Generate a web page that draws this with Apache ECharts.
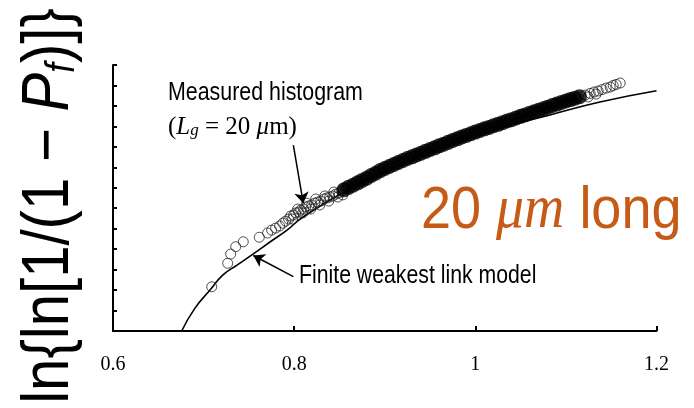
<!DOCTYPE html>
<html>
<head>
<meta charset="utf-8">
<script src="https://cdn.jsdelivr.net/npm/echarts/dist/echarts.min.js"></script>
<style>
  html, body { margin: 0; padding: 0; background: #fff; }
  #chart { width: 694px; height: 408px; }
</style>
</head>
<body>
<div id="chart"></div>
<script>
  // x ticks (stress ratio), y axis is unlabelled ln{ln[1/(1-Pf)]}
  const xTicks = [0.6, 0.8, 1, 1.2]
  const yMin = -11
  const yMax = 2

  // finite weakest link model
  const modelCurve = [
    [0.6758, -11.0], [0.6905, -9.88], [0.7071, -9.00], [0.7214, -8.26], [0.7369, -7.78],
    [0.7545, -7.24], [0.7733, -6.65], [0.7921, -6.07], [0.8098, -5.43], [0.8617, -4.06],
    [0.9168, -2.89], [0.9720, -1.91], [1.0272, -1.08], [1.0824, -0.44], [1.1376, 0.19],
    [1.2000, 0.74]
  ]

  // measured histogram, lowest (isolated) points
  const measuredSparse = [
    [0.7090, -8.84], [0.7266, -7.69], [0.7299, -7.24], [0.7355, -6.88], [0.7438, -6.64],
    [0.7615, -6.42]
  ]

  // measured histogram, overlapping points before the dense band
  const measuredLow = [
    [0.7706, -6.21], [0.7751, -6.07], [0.7795, -5.97], [0.7839, -5.87], [0.7873, -5.73],
    [0.7906, -5.63], [0.7939, -5.53], [0.7961, -5.38], [0.7994, -5.33], [0.8017, -5.23],
    [0.8050, -5.19], [0.8072, -5.09], [0.8105, -5.04], [0.8127, -4.94], [0.8161, -4.89],
    [0.8194, -4.84], [0.8227, -4.75], [0.8260, -4.70], [0.8294, -4.65], [0.8327, -4.55],
    [0.8360, -4.50], [0.8393, -4.45], [0.8427, -4.40], [0.8460, -4.31], [0.8493, -4.26],
    [0.8526, -4.16], [0.7983, -5.53], [0.8039, -5.04], [0.8094, -5.23], [0.8139, -4.75],
    [0.8183, -5.04], [0.8238, -4.55], [0.8283, -4.84], [0.8338, -4.40], [0.8382, -4.65],
    [0.8438, -4.21], [0.8482, -4.45], [0.8537, -4.35], [0.8560, -4.01]
  ]

  // measured histogram, dense band (markers overlap into a solid band)
  const measuredDense = [
    [0.855, -4.10], [0.860, -3.98], [0.865, -3.88], [0.870, -3.76], [0.875, -3.64],
    [0.880, -3.53], [0.885, -3.40], [0.890, -3.29], [0.895, -3.16], [0.900, -3.06],
    [0.905, -2.96], [0.910, -2.86], [0.915, -2.76], [0.920, -2.67], [0.925, -2.57],
    [0.930, -2.49], [0.935, -2.40], [0.940, -2.31], [0.945, -2.22], [0.950, -2.13],
    [0.955, -2.05], [0.960, -1.95], [0.965, -1.87], [0.970, -1.78], [0.975, -1.69],
    [0.980, -1.61], [0.985, -1.52], [0.990, -1.44], [0.995, -1.36], [1.000, -1.28],
    [1.005, -1.20], [1.010, -1.12], [1.015, -1.05], [1.020, -0.97], [1.025, -0.90],
    [1.030, -0.82], [1.035, -0.74], [1.040, -0.67], [1.045, -0.59], [1.050, -0.51],
    [1.055, -0.44], [1.060, -0.36], [1.065, -0.29], [1.070, -0.21], [1.075, -0.14],
    [1.080, -0.06], [1.085, 0.02], [1.090, 0.09], [1.095, 0.17], [1.100, 0.24],
    [1.105, 0.31], [1.110, 0.38], [1.115, 0.45]
  ]

  // measured histogram, upper tail
  const measuredTail = [
    [1.1212, 0.53], [1.1245, 0.44], [1.1267, 0.61], [1.1312, 0.68], [1.1334, 0.58],
    [1.1356, 0.73], [1.1400, 0.80], [1.1444, 0.87], [1.1489, 0.92], [1.1522, 1.00],
    [1.1555, 1.05], [1.1599, 1.12]
  ]

  // annotation arrows [tail, head]
  const arrowMeasured = [[0.7991, -1.91], [0.8101, -4.76]]
  const arrowModel = [[0.7991, -8.34], [0.7549, -7.31]]

  const sans = '"Liberation Sans", Arial, sans-serif'
  const serif = '"Liberation Serif", "Times New Roman", serif'

  const chart = echarts.init(document.getElementById('chart'))
  const hollow = {
    type: 'scatter',
    symbol: 'circle',
    symbolSize: 10,
    itemStyle: { color: 'rgba(255,255,255,0)', borderColor: '#222', borderWidth: 1 },
    silent: true,
    z: 3
  }
  const option = {
    animation: false,
    backgroundColor: '#fff',
    grid: { left: 113, right: 37.5, top: 65, bottom: 77 },
    xAxis: {
      type: 'value',
      min: xTicks[0],
      max: xTicks[xTicks.length - 1],
      interval: 0.2,
      axisLine: { onZero: false, lineStyle: { color: '#000', width: 2 } },
      axisTick: { inside: true, length: 5, lineStyle: { color: '#000', width: 2 } },
      axisLabel: { color: '#000', fontFamily: serif, fontSize: 20, margin: 24 },
      splitLine: { show: false }
    },
    yAxis: {
      type: 'value',
      min: yMin,
      max: yMax,
      interval: 1,
      axisLine: { show: true, onZero: false, lineStyle: { color: '#000', width: 2 } },
      axisTick: { show: true, inside: true, length: 4, lineStyle: { color: '#000', width: 2 } },
      axisLabel: { show: false },
      splitLine: { show: false }
    },
    series: [
      {
        type: 'line',
        data: modelCurve,
        smooth: true,
        showSymbol: false,
        lineStyle: { color: '#000', width: 1.6 },
        silent: true,
        z: 2,
        markLine: {
          silent: true,
          symbol: ['none', 'arrow'],
          symbolSize: 11,
          label: { show: false },
          lineStyle: { color: '#000', width: 1.5, type: 'solid' },
          data: [
            [{ coord: arrowMeasured[0] }, { coord: arrowMeasured[1] }],
            [{ coord: arrowModel[0] }, { coord: arrowModel[1] }]
          ]
        }
      },
      Object.assign({ data: measuredSparse }, hollow),
      Object.assign({ data: measuredLow }, hollow),
      {
        type: 'scatter',
        data: measuredDense,
        symbol: 'circle',
        symbolSize: 15,
        itemStyle: { color: '#000' },
        silent: true,
        z: 4
      },
      Object.assign({ data: measuredTail }, hollow)
    ],
    graphic: [
      {
        type: 'text',
        x: 50,
        y: 206,
        rotation: Math.PI / 2,
        scaleX: 0.88,
        style: {
          text: 'ln{ln[1/(1 − {p|P}{s|f})]}',
          fontFamily: sans,
          fontSize: 66,
          fill: '#000',
          align: 'center',
          verticalAlign: 'middle',
          rich: {
            p: { fontFamily: sans, fontSize: 66, fontStyle: 'italic', fill: '#000' },
            s: { fontFamily: sans, fontSize: 40, fontStyle: 'italic', fill: '#000', verticalAlign: 'bottom' }
          }
        }
      },
      {
        type: 'text',
        x: 168,
        y: 93,
        scaleX: 0.855,
        style: {
          text: 'Measured histogram',
          fontFamily: sans,
          fontSize: 25,
          fill: '#000',
          align: 'left',
          verticalAlign: 'middle'
        }
      },
      {
        type: 'text',
        x: 168,
        y: 127,
        style: {
          text: '({i|L}{sub|g} = 20 {i|μ}m)',
          fontFamily: serif,
          fontSize: 25,
          fill: '#000',
          align: 'left',
          verticalAlign: 'middle',
          rich: {
            i: { fontFamily: serif, fontSize: 25, fontStyle: 'italic', fill: '#000' },
            sub: { fontFamily: serif, fontSize: 17, fontStyle: 'italic', fill: '#000', verticalAlign: 'bottom' }
          }
        }
      },
      {
        type: 'text',
        x: 299,
        y: 276,
        scaleX: 0.85,
        style: {
          text: 'Finite weakest link model',
          fontFamily: sans,
          fontSize: 25,
          fill: '#000',
          align: 'left',
          verticalAlign: 'middle'
        }
      },
      {
        type: 'text',
        x: 421,
        y: 211,
        scaleX: 0.9,
        style: {
          text: '{a|20 }{b|μm}{a| long}',
          fill: '#C65B17',
          align: 'left',
          verticalAlign: 'middle',
          rich: {
            a: { fontFamily: sans, fontSize: 60, fill: '#C65B17' },
            b: { fontFamily: serif, fontSize: 62, fontStyle: 'italic', fill: '#C65B17' }
          }
        }
      }
    ]
  }
  chart.setOption(option)
</script>
</body>
</html>
